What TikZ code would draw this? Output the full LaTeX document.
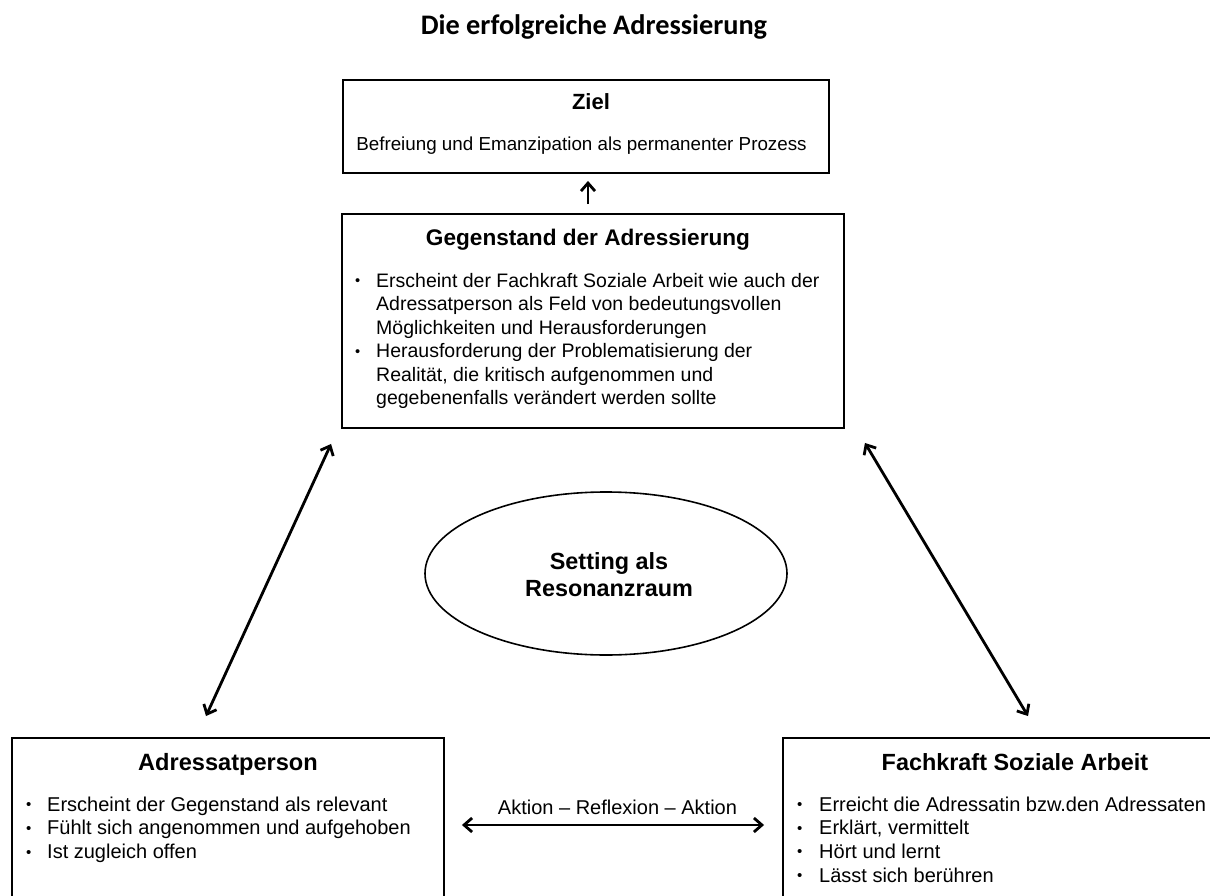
\documentclass[tikz,border=0pt]{standalone}
\usepackage{fontspec}
\setmainfont{Liberation Sans}
\newfontfamily\headfont{Carlito}
\usetikzlibrary{arrows.meta,shapes.geometric,calc}
\newcommand{\bul}{\raisebox{0.08em}{\scalebox{0.75}{•}}}
\begin{document}
\begin{tikzpicture}[x=1pt,y=-1pt,
  boxnode/.style={draw, line width=1.9pt, rectangle, inner sep=0pt},
  hd/.style={anchor=base, inner sep=0pt, font=\bfseries\fontsize{23.2}{27}\selectfont},
  bodytext/.style={anchor=base west, inner sep=0pt},
  arr/.style={line width=2.8pt, {Straight Barb[length=8pt,width=14pt]}-{Straight Barb[length=8pt,width=14pt]}},
  uparr/.style={line width=2.8pt, -{Straight Barb[length=8pt,width=14pt]}}]
\useasboundingbox (0,0) rectangle (1210,896);
\fill[white] (0,0) rectangle (1210,896);
\clip (0,0) rectangle (1210,896);

% title
\node[anchor=base, inner sep=0pt, font=\headfont\bfseries\fontsize{28.3}{34}\selectfont] (title) at (594,35) {Die erfolgreiche Adressierung};

% boxes
\node[boxnode, minimum width=486pt, minimum height=93pt] (ziel) at (586,126.5) {};
\node[boxnode, minimum width=502pt, minimum height=214pt] (gegen) at (593,321) {};
\node[boxnode, minimum width=432pt, minimum height=180pt] (adr) at (228,828) {};
\node[boxnode, minimum width=464pt, minimum height=180pt] (fach) at (1015,828) {};
\node[draw, ellipse, line width=1.6pt, minimum width=362pt, minimum height=163pt, inner sep=0pt] (setting) at (606,573.5) {};

% Ziel
\node[hd, font=\bfseries\fontsize{22}{26}\selectfont] (zielT) at (591,110) {Ziel};
\node[anchor=base, inner sep=0pt, font=\fontsize{18.8}{23}\selectfont] (zielB) at (581.5,150.7) {Befreiung und Emanzipation als permanenter Prozess};

% Gegenstand
\node[hd, font=\bfseries\fontsize{22.6}{27}\selectfont] (gegenT) at (588,245) {Gegenstand der Adressierung};
\node[bodytext, font=\fontsize{19.5}{23.6}\selectfont] (gegenB) at (355,287) {%
\begin{tabular}[t]{@{}l@{}l@{}}
\makebox[21pt][l]{\bul} & Erscheint der Fachkraft Soziale Arbeit wie auch der\\
 & Adressatperson als Feld von bedeutungsvollen\\
 & Möglichkeiten und Herausforderungen\\
\makebox[21pt][l]{\bul} & Herausforderung der Problematisierung der\\
 & Realität, die kritisch aufgenommen und\\
 & gegebenenfalls verändert werden sollte
\end{tabular}};

% Setting
\node[hd, font=\bfseries\fontsize{23.4}{27}\selectfont] (setA) at (609,569) {Setting als};
\node[hd, font=\bfseries\fontsize{23.4}{27}\selectfont] (setB) at (609,596) {Resonanzraum};

% Adressatperson
\node[hd, font=\bfseries\fontsize{23.6}{27}\selectfont] (adrT) at (228,770) {Adressatperson};
\node[bodytext, font=\fontsize{20}{23.8}\selectfont] (adrB) at (26,811) {%
\begin{tabular}[t]{@{}l@{}l@{}}
\makebox[21pt][l]{\bul} & Erscheint der Gegenstand als relevant\\
\makebox[21pt][l]{\bul} & Fühlt sich angenommen und aufgehoben\\
\makebox[21pt][l]{\bul} & Ist zugleich offen
\end{tabular}};

% Fachkraft
\node[hd, font=\bfseries\fontsize{23.4}{27}\selectfont] (fachT) at (1015,770) {Fachkraft Soziale Arbeit};
\node[bodytext, font=\fontsize{20}{23.7}\selectfont] (fachB) at (797,811) {%
\begin{tabular}[t]{@{}l@{}l@{}}
\makebox[22pt][l]{\bul} & Erreicht die Adressatin bzw.den Adressaten\\
\makebox[22pt][l]{\bul} & Erklärt, vermittelt\\
\makebox[22pt][l]{\bul} & Hört und lernt\\
\makebox[22pt][l]{\bul} & Lässt sich berühren
\end{tabular}};

% connectors
\draw[uparr] ($(gegen.north -| ziel.south)+(2,-9)$) -- ($(ziel.south)+(2,7)$);
\draw[arr] ($(gegen.south west)+(-10,15)$) -- ($(adr.north)+(-22,-21)$);
\draw[arr] ($(gegen.south east)+(20,14)$) -- ($(fach.north)+(13,-21)$);
\draw[arr] ($(adr.east)+(17,-3)$) -- ($(fach.west)+(-18,-3)$);
\node[anchor=base, inner sep=0pt, font=\fontsize{20}{24}\selectfont] (aktion) at (617.5,814) {Aktion – Reflexion – Aktion};
\end{tikzpicture}
\end{document}
